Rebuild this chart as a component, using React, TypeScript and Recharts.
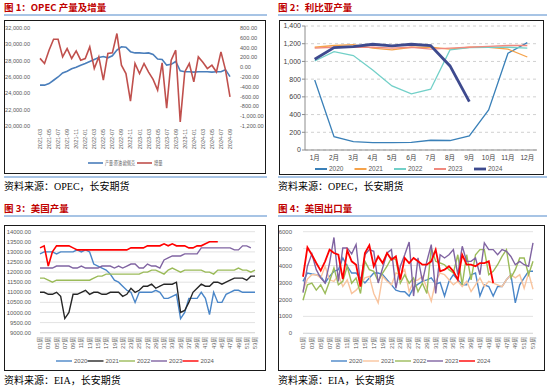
import React from 'react';
import { LineChart, Line, XAxis, YAxis, CartesianGrid } from 'recharts';

// ---------- Chart 1: OPEC output & change ----------
const opecMonths = [
  '2021-03','2021-04','2021-05','2021-06','2021-07','2021-08','2021-09','2021-10','2021-11','2021-12',
  '2022-01','2022-02','2022-03','2022-04','2022-05','2022-06','2022-07','2022-08','2022-09','2022-10','2022-11','2022-12',
  '2023-01','2023-02','2023-03','2023-04','2023-05','2023-06','2023-07','2023-08','2023-09','2023-10','2023-11','2023-12',
  '2024-01','2024-02','2024-03','2024-04','2024-05','2024-06','2024-07','2024-08','2024-09',
];
const opecOutput = [
  25000, 25000, 25200, 25600, 26000, 26500, 26700, 27000, 27200, 27450,
  27650, 27900, 28150, 28400, 28500, 28350, 28600, 29300, 29700, 29650,
  29100, 28950, 28950, 28900, 28950, 28750, 28200, 28150, 27450, 27550,
  27900, 26750, 26650, 26650, 26600, 26650, 26650, 26650, 26600, 26650,
  26650, 26900, 26050,
];
const opecChange = [
  180, 75, 347, 571, 571, 210, 380, 177, 333, 143,
  177, 414, -27, 210, -265, 279, 292, 687, 41, -129,
  -694, 75, -129, 75, -100, -250, -469, 88, -836, 143,
  347, -1116, -96, 75, -300, 210, 102, -27, 41, -96,
  313, -55, -606,
];
const opecLeftTicks = [20000, 22000, 24000, 26000, 28000, 30000, 32000];
const opecRightTicks = [-1200, -1000, -800, -600, -400, -200, 0, 200, 400, 600, 800];
const opecLegend = ['产量:原油:欧佩克', '增量'];

// ---------- Chart 2: Libya output ----------
const libyaMonths = ['1月','2月','3月','4月','5月','6月','7月','8月','9月','10月','11月','12月'];
const libya2020 = [791, 150, 94, 83, 83, 85, 110, 107, 158, 452, 1092, 1212];
const libya2021 = [1160, 1180, 1190, 1150, 1130, 1160, 1160, 1140, 1160, 1160, 1140, 1050];
const libya2022 = [1005, 1111, 1066, 904, 723, 633, 686, 1130, 1155, 1160, 1160, 1150];
const libya2023 = [1150, 1160, 1160, 1160, 1150, 1160, 1140, 1150, 1160, 1170, 1180, 1180];
const libya2024 = [1025, 1156, 1167, 1194, 1175, 1194, 1179, 949, 546];
const libyaTicks = [0, 200, 400, 600, 800, 1000, 1200, 1400];

// ---------- Weeks (charts 3 & 4) ----------
const weeks = [
  '01周','02周','03周','04周','05周','06周','07周','08周','09周','10周',
  '11周','12周','13周','14周','15周','16周','17周','18周','19周','20周',
  '21周','22周','23周','24周','25周','26周','27周','28周','29周','30周',
  '31周','32周','33周','34周','35周','36周','37周','38周','39周','40周',
  '41周','42周','43周','44周','45周','46周','47周','48周','49周','50周',
  '51周','52周','53周',
];

// ---------- Chart 3: US production ----------
const usProd2020 = [
  12900, 13000, 13000, 13000, 12900, 13000, 13000, 13000, 13000, 13100,
  13000, 13100, 13000, 12400, 12300, 12200, 12100, 11900, 11600, 11500,
  11300, 11100, 11000, 10500, 11000, 11000, 11000, 11000, 11100, 11000,
  10700, 10700, 10800, 10900, 9700, 10000, 10700, 10700, 10700, 11000,
  10700, 9900, 11000, 10500, 10500, 10900, 11000, 11100, 11100, 11000,
  11000, 11000, 11000,
];
const usProd2021 = [
  11000, 11000, 10900, 10900, 11000, 10800, 9700, 10000, 10900, 10900,
  11000, 11100, 10900, 11000, 11000, 10900, 10900, 11000, 11000, 11000,
  10800, 10900, 11200, 11000, 11100, 11300, 11300, 11400, 11200, 11300,
  11400, 11400, 11400, 11500, 10000, 10100, 10500, 11000, 11200, 11400,
  11300, 11300, 11500, 11500, 11400, 11500, 11600, 11700, 11700, 11700,
  11600, 11800, 11800,
];
const usProd2022 = [
  11700, 11700, 11600, 11500, 11600, 11600, 11600, 11600, 11600, 11600,
  11600, 11600, 11600, 11700, 11800, 11800, 11900, 11900, 11900, 11900,
  11900, 11900, 11900, 11900, 11900, 12000, 12000, 12100, 12100, 12000,
  11900, 12100, 12200, 12100, 12000, 12100, 12100, 12100, 12100, 12100,
  12000, 12000, 11900, 12100, 12100, 12100, 12100, 12100, 12200, 12100,
  12100, 12000, 12100,
];
const usProd2023 = [
  12200, 12200, 12200, 12200, 12300, 12300, 12300, 12300, 12200, 12200,
  12300, 12200, 12200, 12200, 12200, 12300, 12300, 12300, 12200, 12300,
  12200, 12300, 12400, 12400, 12200, 12200, 12400, 12300, 12300, 12200,
  12600, 12700, 12800, 12800, 12800, 12900, 12900, 12900, 12900, 13200,
  13200, 13200, 13200, 13200, 13200, 13200, 13200, 13100, 13100, 13300,
  13300, 13200,
];
const usProd2024 = [
  13200, 13300, 12300, 13000, 13300, 13300, 13300, 13300, 13200, 13100,
  13100, 13100, 13100, 13100, 13100, 13100, 13100, 13100, 13100, 13100,
  13100, 13100, 13200, 13200, 13200, 13200, 13300, 13300, 13300, 13300,
  13400, 13300, 13400, 13300, 13300, 13300, 13200, 13200, 13300, 13300,
  13400, 13500, 13500, 13500,
];
const usProdTicks = [9000, 9500, 10000, 10500, 11000, 11500, 12000, 12500, 13000, 13500, 14000];

// ---------- Chart 4: US exports ----------
const usExp2020 = [
  3070, 3560, 3500, 3460, 3360, 2970, 3360, 3660, 3760, 4450,
  3960, 3560, 3560, 3270, 2970, 3270, 3560, 3560, 3460, 3160,
  2860, 2550, 2460, 2450, 2200, 2700, 2900, 3070, 3160, 3270,
  2900, 3000, 2200, 3070, 3460, 3160, 2860, 2860, 3460, 3560,
  2200, 2860, 2760, 2200, 2760, 2760, 3160, 3460, 1800, 2860,
  3270, 3660, 3660,
];
const usExp2021 = [
  2500, 3200, 3460, 3460, 3270, 3960, 3160, 3070, 3460, 2760,
  3160, 2350, 2550, 2860, 3270, 3360, 2350, 1800, 3360, 3070,
  2860, 3560, 3460, 3760, 2460, 3070, 3160, 3360, 2660, 1900,
  3070, 3560, 3460, 3160, 2860, 3070, 2760, 3070, 2460, 2860,
  3270, 2760, 3070, 2960, 2860, 2760, 3160, 3460, 3270, 3460,
  2660, 3560, 2600,
];
const usExp2022 = [
  1950, 2860, 2960, 2550, 2860, 2350, 3070, 3860, 2860, 3070,
  3960, 2960, 3270, 2350, 4250, 3760, 3660, 3070, 3560, 3960,
  4450, 4350, 2960, 3460, 2960, 3270, 2460, 2960, 2350, 5040,
  4250, 4150, 4050, 3760, 3560, 4640, 2860, 4640, 3160, 4640,
  4940, 4940, 3460, 3660, 4050, 4540, 4940, 3270, 3760, 4450,
  4450, 3460, 4250,
];
const usExp2023 = [
  2400, 3960, 4690, 3760, 3270, 2970, 4150, 5660, 3070, 5040,
  5040, 4690, 5240, 2860, 4640, 4940, 4840, 2970, 3860, 4740,
  4940, 2660, 3960, 4640, 5390, 2200, 4450, 3070, 4250, 5240,
  2350, 4640, 4450, 4640, 4940, 3460, 5140, 4250, 4250, 4450,
  3460, 5340, 4940, 4940, 4640, 4940, 4840, 4540, 4050, 4250,
  4050, 3960, 5340,
];
const usExp2024 = [
  3340, 5070, 4640, 4150, 3700, 4250, 4940, 4740, 4640, 3200,
  4900, 4250, 4050, 2760, 4740, 5200, 3960, 4540, 4150, 4740,
  4350, 4540, 3170, 4450, 4150, 4450, 4250, 4050, 4050, 4250,
  4940, 3660, 3760, 3960, 3660, 3170, 4640, 4050, 4050, 3960,
  4150, 4150, 4250, 2970,
];
const usExpTicks = [0, 1000, 2000, 3000, 4000, 5000, 6000];

const yearLabels = ['2020', '2021', '2022', '2023', '2024'];

// ---------- tables ----------
const opecRows = opecMonths.map((m, i) => ({ m, output: opecOutput[i], change: opecChange[i] }));
const libyaRows = libyaMonths.map((m, i) => ({
  m, y2020: libya2020[i], y2021: libya2021[i], y2022: libya2022[i], y2023: libya2023[i], y2024: libya2024[i],
}));
const prodRows = weeks.map((w, i) => ({
  w, y2020: usProd2020[i], y2021: usProd2021[i], y2022: usProd2022[i], y2023: usProd2023[i], y2024: usProd2024[i],
}));
const expRows = weeks.map((w, i) => ({
  w, y2020: usExp2020[i], y2021: usExp2021[i], y2022: usExp2022[i], y2023: usExp2023[i], y2024: usExp2024[i],
}));

// ---------- styles ----------
const tickFont = '"Liberation Sans", "Noto Sans CJK SC", sans-serif';
const cjk = '"Noto Sans CJK SC", sans-serif';
const tickFill = '#595959';

const libyaColors = ['#3a80b8', '#f5a24a', '#72d0c8', '#f0897e', '#3e4a8e'];
const prodColors = ['#4a86c8', '#262626', '#9bbb59', '#8064a2', '#ff0000'];
const expColors = ['#4a86c8', '#f9c49e', '#9bbb59', '#8064a2', '#ff0000'];

const fmt2 = (v: number) => v.toLocaleString('en-US', { minimumFractionDigits: 2, maximumFractionDigits: 2 });
const fmtPlain2 = (v: number) => v.toFixed(2);
const fmtComma = (v: number) => v.toLocaleString('en-US');

function VTick(props: any) {
  const { x, y, payload, fontSize } = props;
  return (
    <text
      transform={`translate(${x},${y}) rotate(-90)`}
      x={0}
      y={0}
      dy={fontSize * 0.36}
      textAnchor="end"
      fontSize={fontSize}
      fill={tickFill}
      fontFamily={tickFont}
    >
      {payload.value}
    </text>
  );
}

function Title({ left, top, text }: { left: number; top: number; text: string }) {
  return (
    <div style={{ position: 'absolute', left, top, fontSize: 9.5, fontWeight: 700, color: '#c00000', fontFamily: cjk, lineHeight: '14px', whiteSpace: 'nowrap' }}>
      {text}
    </div>
  );
}

function Rule({ left, top, width, color = '#a7c4e5', h = 2 }: { left: number; top: number; width: number; color?: string; h?: number }) {
  return <div style={{ position: 'absolute', left, top, width, height: h, background: color }} />;
}

function Source({ left, top, text }: { left: number; top: number; text: string }) {
  return (
    <div style={{ position: 'absolute', left, top, fontSize: 10, color: '#000', fontFamily: '"Liberation Serif", "Noto Sans CJK SC", serif', lineHeight: '14px', whiteSpace: 'nowrap' }}>
      {text}
    </div>
  );
}

function Box({ left, top, width, height }: { left: number; top: number; width: number; height: number }) {
  return <div style={{ position: 'absolute', left, top, width, height, boxSizing: 'border-box', border: '1px solid #1a1a1a' }} />;
}

function LegendRow({ left, top, labels, colors, starts, lineLen, strokeW, fontSize, textLens }: any) {
  return (
    <svg style={{ position: 'absolute', left, top, overflow: 'visible' }} width={250} height={10}>
      {labels.map((lab: string, i: number) => (
        <g key={lab}>
          <line x1={starts[i]} x2={starts[i] + lineLen} y1={5} y2={5} stroke={colors[i]} strokeWidth={strokeW[i]} />
          <text
            x={starts[i] + lineLen + 2}
            y={5}
            dy={fontSize * 0.36}
            fontSize={fontSize}
            fill={tickFill}
            fontFamily={tickFont}
            {...(textLens ? { textLength: textLens[i], lengthAdjust: 'spacingAndGlyphs' } : {})}
          >
            {lab}
          </text>
        </g>
      ))}
    </svg>
  );
}

export default function App() {
  return (
    <div style={{ position: 'absolute', left: 0, top: 0, width: 550, height: 389, background: '#fff', overflow: 'hidden' }}>
      {/* ----- Chart 1 ----- */}
      <Title left={4} top={0} text="图 1：OPEC 产量及增量" />
      <Rule left={4} top={14} width={263} />
      <Box left={4} top={20} width={262} height={154} />
      <div style={{ position: 'absolute', left: 4, top: 20 }}>
        <LineChart width={262} height={154} data={opecRows} margin={{ top: 8, right: 0, bottom: 0, left: 0 }}>
          <XAxis dataKey="m" interval={1} height={48} tickSize={0} tickMargin={3} tickLine={false} axisLine={false} tick={<VTick fontSize={5.5} />} />
          <YAxis yAxisId="l" orientation="left" width={36} domain={[20000, 32000]} ticks={opecLeftTicks} interval={0} axisLine={false} tickLine={false} tickMargin={4} tick={{ fontSize: 5.6, fill: tickFill, fontFamily: tickFont }} tickFormatter={fmt2} />
          <YAxis yAxisId="r" orientation="right" width={36} domain={[-1200, 800]} ticks={opecRightTicks} interval={0} axisLine={false} tickLine={false} tickMargin={4} tick={{ fontSize: 5.6, fill: tickFill, fontFamily: tickFont }} tickFormatter={fmt2} />
          <Line yAxisId="l" dataKey="output" stroke="#4a7ebb" strokeWidth={1.6} dot={false} isAnimationActive={false} />
          <Line yAxisId="r" dataKey="change" stroke="#c0504d" strokeWidth={1.6} dot={false} isAnimationActive={false} />
        </LineChart>
      </div>
      <LegendRow left={88} top={157.5} labels={opecLegend} colors={['#4a7ebb', '#c0504d']} starts={[0, 49]} lineLen={15} strokeW={[1.6, 1.6]} fontSize={5.2} textLens={[30, 8.5]} />
      <Rule left={4} top={176} width={263} />
      <Source left={4} top={180} text="资料来源：OPEC，长安期货" />

      {/* ----- Chart 2 ----- */}
      <Title left={278} top={0} text="图 2：利比亚产量" />
      <Rule left={278} top={14} width={269} />
      <Box left={279} top={20} width={265} height={155} />
      <div style={{ position: 'absolute', left: 279, top: 20 }}>
        <LineChart width={265} height={154} data={libyaRows} margin={{ top: 6, right: 7, bottom: 0, left: 0 }}>
          <CartesianGrid vertical={false} stroke="#d0d0d0" strokeDasharray="3 3" />
          <XAxis dataKey="m" interval={0} height={24} padding={{ left: 9.7, right: 9.7 }} tickSize={0} tickMargin={5} tickLine={false} axisLine={{ stroke: '#8c8c8c' }} tick={{ fontSize: 6.5, fill: '#404040', fontFamily: tickFont }} />
          <YAxis width={26} domain={[0, 1400]} ticks={libyaTicks} interval={0} axisLine={{ stroke: '#8c8c8c' }} tickLine={{ stroke: '#8c8c8c' }} tickSize={3} tickMargin={1} tick={{ fontSize: 7, fill: '#404040', fontFamily: tickFont }} tickFormatter={fmtComma} />
          <Line dataKey="y2020" stroke={libyaColors[0]} strokeWidth={1.3} dot={false} isAnimationActive={false} />
          <Line dataKey="y2021" stroke={libyaColors[1]} strokeWidth={1.3} dot={false} isAnimationActive={false} />
          <Line dataKey="y2022" stroke={libyaColors[2]} strokeWidth={1.3} dot={false} isAnimationActive={false} />
          <Line dataKey="y2023" stroke={libyaColors[3]} strokeWidth={1.3} dot={false} isAnimationActive={false} />
          <Line dataKey="y2024" stroke={libyaColors[4]} strokeWidth={2.8} dot={false} isAnimationActive={false} />
        </LineChart>
      </div>
      <LegendRow left={315} top={164} labels={yearLabels} colors={libyaColors} starts={[0, 39.5, 79, 119, 159]} lineLen={12} strokeW={[2, 2, 2, 2, 2.8]} fontSize={6.5} />
      <Rule left={278} top={176} width={269} />
      <Source left={278} top={180} text="资料来源：OPEC，长安期货" />

      {/* ----- Chart 3 ----- */}
      <Title left={4} top={201} text="图 3：美国产量" />
      <Rule left={4} top={214.5} width={263} />
      <Box left={4} top={225} width={262} height={146} />
      <div style={{ position: 'absolute', left: 4, top: 225 }}>
        <LineChart width={262} height={145} data={prodRows} margin={{ top: 6.7, right: 11, bottom: 0, left: 0 }}>
          <CartesianGrid vertical={false} stroke="#e3e3e3" />
          <XAxis dataKey="w" interval={1} height={37.3} tickSize={0} tickMargin={4} tickLine={false} axisLine={{ stroke: '#d9d9d9' }} tick={<VTick fontSize={5.8} />} />
          <YAxis width={36} domain={[9000, 14000]} ticks={usProdTicks} interval={0} axisLine={false} tickLine={false} tickMargin={3} tick={{ fontSize: 5.8, fill: tickFill, fontFamily: tickFont }} tickFormatter={fmtPlain2} />
          <Line dataKey="y2020" stroke={prodColors[0]} strokeWidth={1.4} dot={false} isAnimationActive={false} />
          <Line dataKey="y2021" stroke={prodColors[1]} strokeWidth={1.4} dot={false} isAnimationActive={false} />
          <Line dataKey="y2022" stroke={prodColors[2]} strokeWidth={1.4} dot={false} isAnimationActive={false} />
          <Line dataKey="y2023" stroke={prodColors[3]} strokeWidth={1.4} dot={false} isAnimationActive={false} />
          <Line dataKey="y2024" stroke={prodColors[4]} strokeWidth={1.6} dot={false} isAnimationActive={false} />
        </LineChart>
      </div>
      <LegendRow left={56} top={356} labels={yearLabels} colors={prodColors} starts={[0, 31.5, 63, 95, 126.5]} lineLen={16} strokeW={[1.4, 1.4, 1.4, 1.4, 1.4]} fontSize={6} />
      <Source left={4} top={374} text="资料来源：EIA，长安期货" />

      {/* ----- Chart 4 ----- */}
      <Title left={278} top={201} text="图 4：美国出口量" />
      <Rule left={278} top={214.5} width={269} />
      <Box left={278} top={225} width={267} height={146} />
      <div style={{ position: 'absolute', left: 278, top: 225 }}>
        <LineChart width={267} height={145} data={expRows} margin={{ top: 6.7, right: 12, bottom: 0, left: 0 }}>
          <CartesianGrid vertical={false} stroke="#e3e3e3" />
          <XAxis dataKey="w" interval={1} height={36.7} tickSize={0} tickMargin={3.5} tickLine={false} axisLine={{ stroke: '#d9d9d9' }} tick={<VTick fontSize={5.8} />} />
          <YAxis width={25} domain={[0, 6000]} ticks={usExpTicks} interval={0} axisLine={false} tickLine={false} tickMargin={5} tick={{ fontSize: 6, fill: tickFill, fontFamily: tickFont }} />
          <Line dataKey="y2020" stroke={expColors[0]} strokeWidth={1.4} dot={false} isAnimationActive={false} />
          <Line dataKey="y2021" stroke={expColors[1]} strokeWidth={1.4} dot={false} isAnimationActive={false} />
          <Line dataKey="y2022" stroke={expColors[2]} strokeWidth={1.4} dot={false} isAnimationActive={false} />
          <Line dataKey="y2023" stroke={expColors[3]} strokeWidth={1.4} dot={false} isAnimationActive={false} />
          <Line dataKey="y2024" stroke={expColors[4]} strokeWidth={1.8} dot={false} isAnimationActive={false} />
        </LineChart>
      </div>
      <LegendRow left={331} top={356} labels={yearLabels} colors={expColors} starts={[0, 32, 64, 96, 128]} lineLen={16} strokeW={[1.4, 1.4, 1.4, 1.4, 1.4]} fontSize={6} />
      <Source left={278} top={374} text="资料来源：EIA，长安期货" />
    </div>
  );
}
